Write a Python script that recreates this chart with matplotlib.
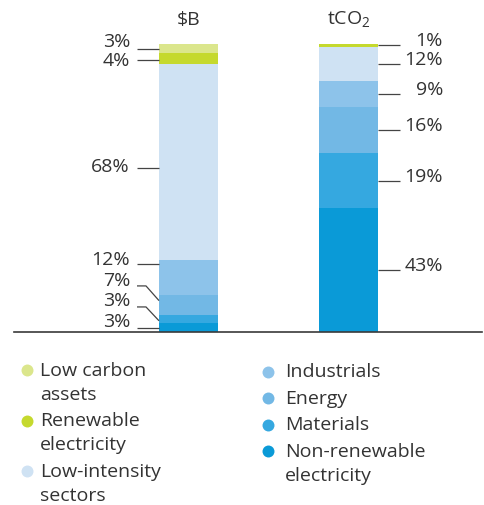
import matplotlib
matplotlib.use("Agg")
import matplotlib.pyplot as plt
from matplotlib.lines import Line2D
import numpy as np

plt.rcParams["font.family"] = ["Open Sans", "DejaVu Sans"]
plt.rcParams["mathtext.fontset"] = "custom"
plt.rcParams["mathtext.rm"] = "Open Sans"

# --- data -------------------------------------------------------------
bar_titles = ["$B", "tCO$_\\mathregular{2}$"]
categories = ["Non-renewable\nelectricity", "Materials", "Energy", "Industrials",
              "Low-intensity\nsectors", "Renewable\nelectricity", "Low carbon\nassets"]
share_usd = [3, 3, 7, 12, 68, 4, 3]
share_co2 = [43, 19, 16, 9, 12, 1, 0]
colors = ["#0a9ad7", "#35a8e0", "#72b8e5", "#8dc3ea", "#cfe2f3", "#c5d92e", "#dbe68c"]

# legend order (two columns)
legend_left = [6, 5, 4]
legend_right = [3, 2, 1, 0]

# --- layout -----------------------------------------------------------
W, H = 484, 506
fig = plt.figure(figsize=(W / 100, H / 100), dpi=100)
px_per_unit = 160.0
ax_left_px, ax_right_px = 14, 482
base_px, top_px = 333, 45
x0 = 0 - (188.5 - ax_left_px) / px_per_unit
x1 = 1 + (ax_right_px - 348.5) / px_per_unit
ax = fig.add_axes([ax_left_px / W, (H - base_px) / H,
                   (ax_right_px - ax_left_px) / W, (base_px - top_px) / H])
ax.set_xlim(x0, x1)
ax.set_ylim(0, 100)
for s in ["left", "right", "top"]:
    ax.spines[s].set_visible(False)
ax.spines["bottom"].set_color("#3a3a3a")
ax.spines["bottom"].set_linewidth(1.2)
ax.set_xticks([])
ax.set_yticks([])

bar_w = 59 / px_per_unit
xpos = np.arange(2)
for xi, vals in zip(xpos, [share_usd, share_co2]):
    bottoms = np.concatenate([[0], np.cumsum(vals)[:-1]])
    ax.bar(xi, vals, bottom=bottoms, width=bar_w, color=colors, linewidth=0)

txt_color = "#333333"
fs = 14

# titles above bars
for xi, t in zip(xpos, bar_titles):
    ax.text(xi, 108.7, t, ha="center", va="center", fontsize=fs,
            color=txt_color, clip_on=False)

# left bar labels: (text y, line y, y where the leader meets the bar)
left_text_y = [3.8, 11.1, 17.9, 25.3, 57.6, 94.4, 101.0]
left_line_y = [1.4, 8.7, 16.0, 23.6, 57.0, 94.4, 98.3]
left_end_y = [1.4, 3.9, 10.9, 23.6, 57.0, 94.4, 98.3]
lx_start = -(188.5 - 137) / px_per_unit
lx_elbow = -(188.5 - 146) / px_per_unit
lx_end = -bar_w / 2
ltx = -(188.5 - 130) / px_per_unit
for v, ty, ly, ey in zip(share_usd, left_text_y, left_line_y, left_end_y):
    if abs(ly - ey) > 0.01:
        ax.plot([lx_start, lx_elbow, lx_end], [ly, ly, ey], color="#444444",
                lw=0.9, clip_on=False, solid_capstyle="butt")
    else:
        ax.plot([lx_start, lx_end], [ly, ly], color="#444444", lw=0.9,
                clip_on=False, solid_capstyle="butt")
    ax.text(ltx, ty, f"{v}%", ha="right", va="center", fontsize=fs,
            color=txt_color, clip_on=False)

# right bar labels at segment midpoints
mid_co2 = np.cumsum(share_co2) - np.array(share_co2) / 2
rx_start = 1 + bar_w / 2
rx_end = 1 + (400 - 348.5) / px_per_unit
rtx = 1 + (443 - 348.5) / px_per_unit
for v, m in zip(share_co2, mid_co2):
    if v == 0:
        continue
    ax.plot([rx_start, rx_end], [m, m], color="#444444", lw=0.9,
            clip_on=False, solid_capstyle="butt")
    ax.text(rtx, m + 1.8, f"{v}%", ha="right", va="center", fontsize=fs,
            color=txt_color, clip_on=False)

# --- legend -----------------------------------------------------------
line_gap = 24
item_gap = 26.5


def draw_column(indices, mx, tx, y_start):
    y = y_start
    for i in indices:
        fig.lines.append(Line2D(
            [mx / W], [1 - y / H], transform=fig.transFigure, marker="o",
            markersize=8.6, color=colors[i], linestyle="none",
            markeredgewidth=0))
        lines = categories[i].split("\n")
        for k, ln in enumerate(lines):
            fig.text(tx / W, 1 - (y + k * line_gap) / H, ln, ha="left",
                     va="center", fontsize=fs, color=txt_color)
        y += item_gap + (len(lines) - 1) * line_gap


draw_column(legend_left, 27, 40, 371)
draw_column(legend_right, 268, 285, 372.5)

fig.savefig("out.png", dpi=100, facecolor="white")
